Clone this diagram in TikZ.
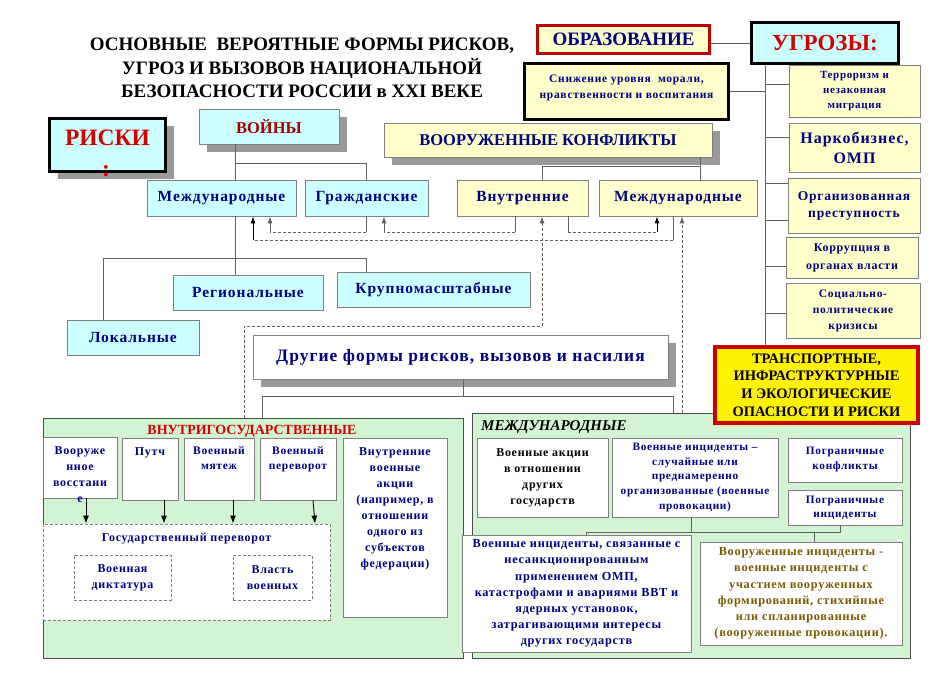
\documentclass[tikz,border=0pt]{standalone}
\usepackage{fontspec}
\setmainfont{Liberation Serif}
\newfontfamily\spaced[LetterSpace=6]{Liberation Serif}
\usetikzlibrary{positioning, arrows.meta, shadows}

\definecolor{navy}{HTML}{000080}
\definecolor{riskred}{HTML}{D40000}
\definecolor{warred}{HTML}{A00000}
\definecolor{cyanfill}{HTML}{CCFFFF}
\definecolor{yelfill}{HTML}{FFFFCC}
\definecolor{greenfill}{HTML}{D3F4D3}
\definecolor{brownish}{HTML}{7A5A00}
\definecolor{framegray}{HTML}{7F7F7F}

\newcommand\fs[2]{\fontsize{#1}{#2}\selectfont}

\tikzset{
  box/.style={draw=framegray, line width=0.8pt, inner sep=0pt, align=center, text=navy},
  cbox/.style={box, fill=cyanfill},
  ybox/.style={box, fill=yelfill},
  wbox/.style={box, fill=white},
  dbox/.style={box, fill=white, dash pattern=on 3pt off 2pt},
  shadowed/.style={drop shadow={shadow xshift=8pt, shadow yshift=-8pt, fill=black!40, opacity=1}},
  txtbig/.style={font=\bfseries\spaced\fs{15.5}{18}},
  txtsmall/.style={font=\bfseries\spaced\fs{12}{16}, text=navy, align=center, inner sep=0pt},
  link/.style={draw=black!62, line width=0.9pt},
  dlink/.style={link, dash pattern=on 3pt off 2pt},
  uparrow/.style={-{Latex[length=7pt,width=5pt]}},
}

\begin{document}
\begin{tikzpicture}[x=1pt, y=-1pt]
\useasboundingbox (0,0) rectangle (935,692);

% green backgrounds
\node[box, fill=greenfill, draw=black!70, minimum width=420, minimum height=240] (domgreen) at (253,538) {};
\node[box, fill=greenfill, draw=black!70, minimum width=438, minimum height=245] (intgreen) at (691,535.5) {};

% title
\node[font=\bfseries\fs{19}{23.5}, align=center] (title) at (302,68) {ОСНОВНЫЕ\ \ ВЕРОЯТНЫЕ ФОРМЫ РИСКОВ,\\УГРОЗ И ВЫЗОВОВ НАЦИОНАЛЬНОЙ\\БЕЗОПАСНОСТИ РОССИИ в XXI ВЕКЕ};

% risks
\node[cbox, draw=black, line width=3.5pt, minimum width=116, minimum height=53, shadowed] (risk) at (107.5,145) {};
\node[font=\bfseries\fs{23.5}{28}, text=riskred, anchor=base] (riskt) at (107.5,146) {РИСКИ};
\node[font=\bfseries\fs{23.5}{28}, text=riskred, anchor=base] (riskc) at (106,177) {:};

% wars and armed conflicts
\node[cbox, minimum width=140, minimum height=35, shadowed, text=warred, font=\bfseries\fs{16.5}{18}] (wars) at (269,126.5) {ВОЙНЫ};
\node[ybox, minimum width=328, minimum height=34, shadowed, font=\bfseries\fs{16.5}{18}] (armed) at (548,140) {ВООРУЖЕННЫЕ КОНФЛИКТЫ};

\node[cbox, minimum width=149, minimum height=36, txtbig] (intlw) at (221.5,198) {Международные};
\node[cbox, minimum width=123, minimum height=36, txtbig] (civil) at (366.5,198) {Гражданские};
\node[ybox, minimum width=131, minimum height=36, txtbig] (inner) at (522.5,198) {Внутренние};
\node[ybox, minimum width=158, minimum height=36, txtbig] (intlc) at (678,198) {Международные};
\node[cbox, minimum width=150, minimum height=35, txtbig] (region) at (248,292.5) {Региональные};
\node[cbox, minimum width=193, minimum height=35, txtbig] (large) at (433.5,289.5) {Крупномасштабные};
\node[cbox, minimum width=132, minimum height=35, txtbig] (local) at (133,337.5) {Локальные};

% tree of wars
\coordinate (wspine) at (235,163);
\coordinate (fl) at (103,258);
\coordinate (fr) at (366,258);
\draw[link] (wspine |- wars.south) -- (wspine |- intlw.north);
\draw[link] (wspine) -| (civil.north);
\draw[link] (wspine |- intlw.south) -- (wspine |- region.north);
\draw[link] (fl |- local.north) -- (fl) -- (fr) -- (fr |- large.north);

% tree of conflicts
\coordinate (al) at (542,166);
\coordinate (ar) at (700,166);
\draw[link] (ar |- armed.south) -- (ar |- intlc.north);
\draw[link] (ar) -- (al) -- (al |- inner.north);

% dashed transitions
\coordinate (d1) at (673,240); \coordinate (d1b) at (253,240);
\draw[link] (d1 |- intlc.south) -- (d1);
\draw[dlink] (d1) -- (d1b);
\draw[link, draw=black, uparrow] (d1b) -- (d1b |- intlw.south);
\coordinate (d2) at (366,232); \coordinate (d2b) at (270,232);
\draw[link] (d2 |- civil.south) -- (d2);
\draw[dlink] (d2) -- (d2b);
\draw[link, uparrow] (d2b) -- (d2b |- intlw.south);
\coordinate (d3) at (515,232); \coordinate (d3b) at (384,232);
\draw[link] (d3 |- inner.south) -- (d3);
\draw[dlink] (d3) -- (d3b);
\draw[link, uparrow] (d3b) -- (d3b |- civil.south);
\coordinate (d4) at (568,232); \coordinate (d4b) at (657,232);
\draw[link] (d4 |- inner.south) -- (d4);
\draw[dlink] (d4) -- (d4b);
\draw[link, draw=black, uparrow] (d4b) -- (d4b |- intlc.south);
\coordinate (d5) at (244,326); \coordinate (d5b) at (542,326);
\draw[dlink, uparrow] (d5 |- domgreen.north) -- (d5) -- (d5b) -- (d5b |- inner.south);
\coordinate (d6) at (682,300);
\draw[dlink, uparrow] (d6 |- intgreen.north) -- (d6 |- intlc.south);

% other forms
\node[wbox, minimum width=415, minimum height=44, shadowed, font=\bfseries\spaced\fs{17.5}{20}] (other) at (460.5,357) {Другие формы рисков, вызовов и насилия};
\coordinate (om) at (463,396);
\coordinate (ol) at (262,396);
\coordinate (or) at (673,396);
\draw[link] (om |- other.south) -- (om);
\draw[link] (ol |- domgreen.north) -- (ol) -- (or) -- (or |- intgreen.north);

% education and threats
\node[ybox, draw=red!75!black, line width=3.5pt, minimum width=172, minimum height=28, font=\bfseries\fs{19}{20}] (edu) at (623.5,39.5) {ОБРАЗОВАНИЕ};
\node[cbox, draw=black, line width=3.5pt, minimum width=147, minimum height=41, text=riskred, font=\bfseries\fs{23}{24}] (threat) at (825,43) {УГРОЗЫ:};
\node[ybox, draw=black, line width=3pt, minimum width=204, minimum height=56] (moral) at (626.5,91.5) {};
\node[txtsmall, font=\bfseries\spaced\fs{11.5}{16}, below=13pt of moral.north] (moralt) {Снижение уровня\ \ морали,\\нравственности и воспитания};
\draw[link] (edu.east |- threat.west) -- (threat.west);

\node[ybox, minimum width=131, minimum height=52, font=\bfseries\spaced\fs{11}{15}] (terror) at (854.5,91) {Терроризм и\\незаконная\\миграция};
\node[ybox, minimum width=131, minimum height=49, font=\bfseries\spaced\fs{16}{20}] (narco) at (854.5,147.5) {Наркобизнес,\\ОМП};
\node[ybox, minimum width=132, minimum height=55, font=\bfseries\spaced\fs{13.5}{17}] (crime) at (854,205.5) {Организованная\\преступность};
\node[ybox, minimum width=132, minimum height=41, font=\bfseries\spaced\fs{12}{18}] (corrupt) at (852,257.5) {Коррупция в\\органах власти};
\node[ybox, minimum width=134, minimum height=55, font=\bfseries\spaced\fs{11.5}{16}] (crisis) at (853,310.5) {Социально-\\политические\\кризисы};
\node[ybox, fill=yellow, draw=red!80!black, line width=3.5pt, text=black, minimum width=203, minimum height=76, font=\bfseries\fs{14.5}{17.7}] (transp) at (816.5,385) {ТРАНСПОРТНЫЕ,\\ИНФРАСТРУКТУРНЫЕ\\И ЭКОЛОГИЧЕСКИЕ\\ОПАСНОСТИ И РИСКИ};

\coordinate (spine) at (765,200);
\draw[link] (spine |- threat.south) -- (spine |- transp.north);
\draw[link] (moral.east) -- (moral.east -| spine);
\foreach \b/\y in {terror/84, narco/137, crime/183, crime/220, corrupt/266, crisis/313}
    \draw[link] (spine |- 0,\y) -- (\b.west |- 0,\y);

% inside the country
\node[font=\bfseries\fs{14}{16}, text=riskred, inner sep=0pt] (domt) at (252,431) {ВНУТРИГОСУДАРСТВЕННЫЕ};
\node[wbox, minimum width=74, minimum height=61] (revolt) at (80,467.5) {};
\node[txtsmall, below=10pt of revolt.north] (revoltt) {Вооруже\\нное\\восстани\\е};
\node[wbox, minimum width=56, minimum height=62] (putsch) at (150,469) {};
\node[txtsmall, below=10pt of putsch.north] (putscht) {Путч};
\node[wbox, minimum width=70, minimum height=62] (mutiny) at (219,469) {};
\node[txtsmall, font=\bfseries\spaced\fs{11.5}{15}, below=9pt of mutiny.north] (mutinyt) {Военный\\мятеж};
\node[wbox, minimum width=76, minimum height=62] (coup) at (298,469) {};
\node[txtsmall, font=\bfseries\spaced\fs{11.5}{15}, below=9pt of coup.north] (coupt) {Военный\\переворот};
\node[wbox, minimum width=104, minimum height=179] (actions) at (395,527.5) {};
\node[txtsmall, below=10pt of actions.north] (actionst) {Внутренние\\военные\\акции\\(например, в\\отношении\\одного из\\субъектов\\федерации)};

\node[dbox, minimum width=287, minimum height=96] (statecoup) at (186.5,572) {};
\node[txtsmall, below=9pt of statecoup.north] (statecoupt) {Государственный переворот};
\node[dbox, txtsmall, minimum width=97, minimum height=45] (dictat) at (122.5,577.5) {Военная\\диктатура};
\node[dbox, txtsmall, minimum width=79, minimum height=45] (power) at (272.5,577.5) {Власть\\военных};

\foreach \b/\x in {revolt/86, putsch/164, mutiny/233}
    \draw[link, draw=black, -{Latex[length=8pt,width=6pt]}] (\b.south -| \x,0) -- (statecoup.north -| \x,0);
\draw[link, draw=black, -{Latex[length=8pt,width=6pt]}] (coup.south -| 313,0) -- (statecoup.north -| 315,0);

% international
\node[font=\bfseries\itshape\fs{15}{16}, anchor=west, inner sep=0pt] (intt) at (481,427) {МЕЖДУНАРОДНЫЕ};
\node[wbox, txtsmall, text=black, minimum width=131, minimum height=79] (milact) at (542.5,477.5) {Военные акции\\в отношении\\других\\государств};
\node[wbox, txtsmall, font=\bfseries\spaced\fs{11.3}{14.7}, minimum width=166, minimum height=79] (incid) at (695,477.5) {Военные инциденты –\\случайные или\\преднамеренно\\организованные (военные\\провокации)};
\node[wbox, txtsmall, font=\bfseries\spaced\fs{11.3}{15}, minimum width=114, minimum height=44] (bconf) at (845,460) {Пограничные\\конфликты};
\node[wbox, txtsmall, font=\bfseries\spaced\fs{11.3}{14}, minimum width=114, minimum height=35] (binc) at (845,507.5) {Пограничные\\инциденты};
\node[wbox, txtsmall, font=\bfseries\spaced\fs{12.3}{16.2}, minimum width=229, minimum height=117] (wmd) at (576.5,593.5) {Военные инциденты, связанные с\\несанкционированным\\применением ОМП,\\катастрофами и авариями ВВТ и\\ядерных установок,\\затрагивающими интересы\\других государств};
\node[wbox, txtsmall, font=\bfseries\spaced\fs{12.3}{16.2}, text=brownish, minimum width=202, minimum height=103] (armedinc) at (801,593.5) {Вооруженные инциденты -\\военные инциденты с\\участием вооруженных\\формирований, стихийные\\или спланированные\\(вооруженные провокации).};

\coordinate (il) at (586,532);
\coordinate (im) at (691,532);
\coordinate (ia) at (814,532);
\coordinate (ir) at (840,532);
\draw[link] (il |- wmd.north) -- (il) -- (ir) -- (ir |- binc.south);
\draw[link] (im |- incid.south) -- (im);
\draw[link] (ia) -- (ia |- armedinc.north);
\end{tikzpicture}
\end{document}
